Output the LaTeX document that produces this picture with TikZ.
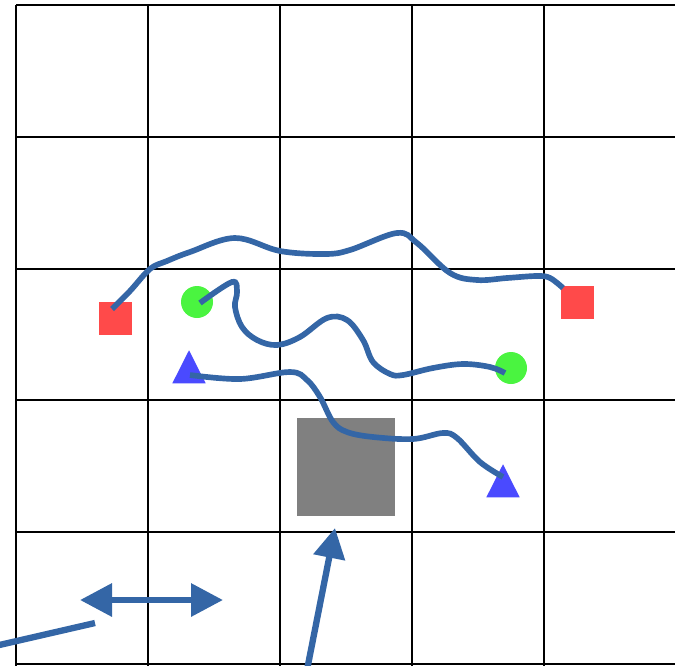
\documentclass[tikz,border=0pt]{standalone}
\usepackage{tikz}
\definecolor{pathblue}{RGB}{52,102,166}
\definecolor{goalred}{RGB}{255,74,74}
\definecolor{ballgreen}{RGB}{74,244,64}
\definecolor{coneblue}{RGB}{74,74,255}
\definecolor{wallgray}{RGB}{128,128,128}
\usetikzlibrary{arrows.meta,positioning,shapes.geometric,calc}

\begin{document}
\begin{tikzpicture}[x=0.03cm,y=-0.03cm,
  gridline/.style={line width=0.065cm,black},
  route/.style={line width=0.17cm,pathblue,line cap=butt},
  bigarrow/.style={line width=0.19cm,pathblue},
  goal/.style={fill=goalred,inner sep=0,minimum size=0.99cm},
  ball/.style={circle,fill=ballgreen,inner sep=0,minimum size=0.96cm},
  cone/.style={isosceles triangle,isosceles triangle stretches,shape border rotate=90,
               fill=coneblue,inner sep=0,minimum width=1.0cm,minimum height=0.99cm},
  wall/.style={fill=wallgray,inner sep=0,minimum size=2.94cm}]
  \useasboundingbox (0,0) rectangle (675,665);
  \clip (0,0) rectangle (675,665);
  % field
  \foreach \i in {0,...,5} {
    \draw[gridline] (16+132*\i,5) -- (16+132*\i,670);
    \draw[gridline] (16,5+131.8*\i) -- (680,5+131.8*\i);
  }
  \node[wall] (block) at (346,467) {};
  \node[goal] (goalA) at (115,318) {};
  \node[goal] (goalB) at (577,302) {};
  \node[ball] (ballA) at (197,302) {};
  \node[ball] (ballB) at (511,368) {};
  \node[cone] (coneA) at (189,373) {};
  \node[cone] (coneB) at (503,487) {};
  % routes
  \draw[route] plot[smooth,tension=0.6] coordinates {([shift={(-3,-9)}]goalA.center)
    (130,291) (150,269) (167,261) (190,252) (235,238) (280,251) (325,254) (350,250)
    (397,233) (417,243) (450,273) (477,280) (507,278) (537,276) (550,278)
    ([shift={(-14,-14)}]goalB.center)};
  \draw[route] plot[smooth,tension=0.6] coordinates {([shift={(3,1)}]ballA.center)
    (232,282) (237,292) (235,307) (242,327) (257,340) (277,345) (300,337) (327,318)
    (347,320) (363,340) (373,362) (390,374) (403,375) (433,368) (463,364) (490,367)
    ([shift={(-6,5)}]ballB.center)};
  \draw[route] plot[smooth,tension=0.6] coordinates {([shift={(1,2)}]coneA.center)
    (240,379) (290,372) (307,380) (320,397) (333,422) (347,432) (373,437) (413,439)
    (443,433) (457,438) (480,462) ([shift={(0,-10)}]coneB.center)};
  % passes
  \coordinate (passL) at (80,600);
  \coordinate (passR) at (223,600);
  \draw[bigarrow,{Triangle[length=0.96cm,width=0.96cm]}-{Triangle[length=0.96cm,width=0.96cm]}]
    (passL) -- (passR);
  \coordinate (kickFrom) at (307,670);
  \coordinate (kickTo) at (335,528);
  \draw[bigarrow,-{Triangle[length=0.9cm,width=0.93cm]}] (kickFrom) -- (kickTo);
  \coordinate (runFrom) at (-5,646);
  \coordinate (runTo) at (95,623);
  \draw[bigarrow] (runFrom) -- (runTo);
\end{tikzpicture}
\end{document}
